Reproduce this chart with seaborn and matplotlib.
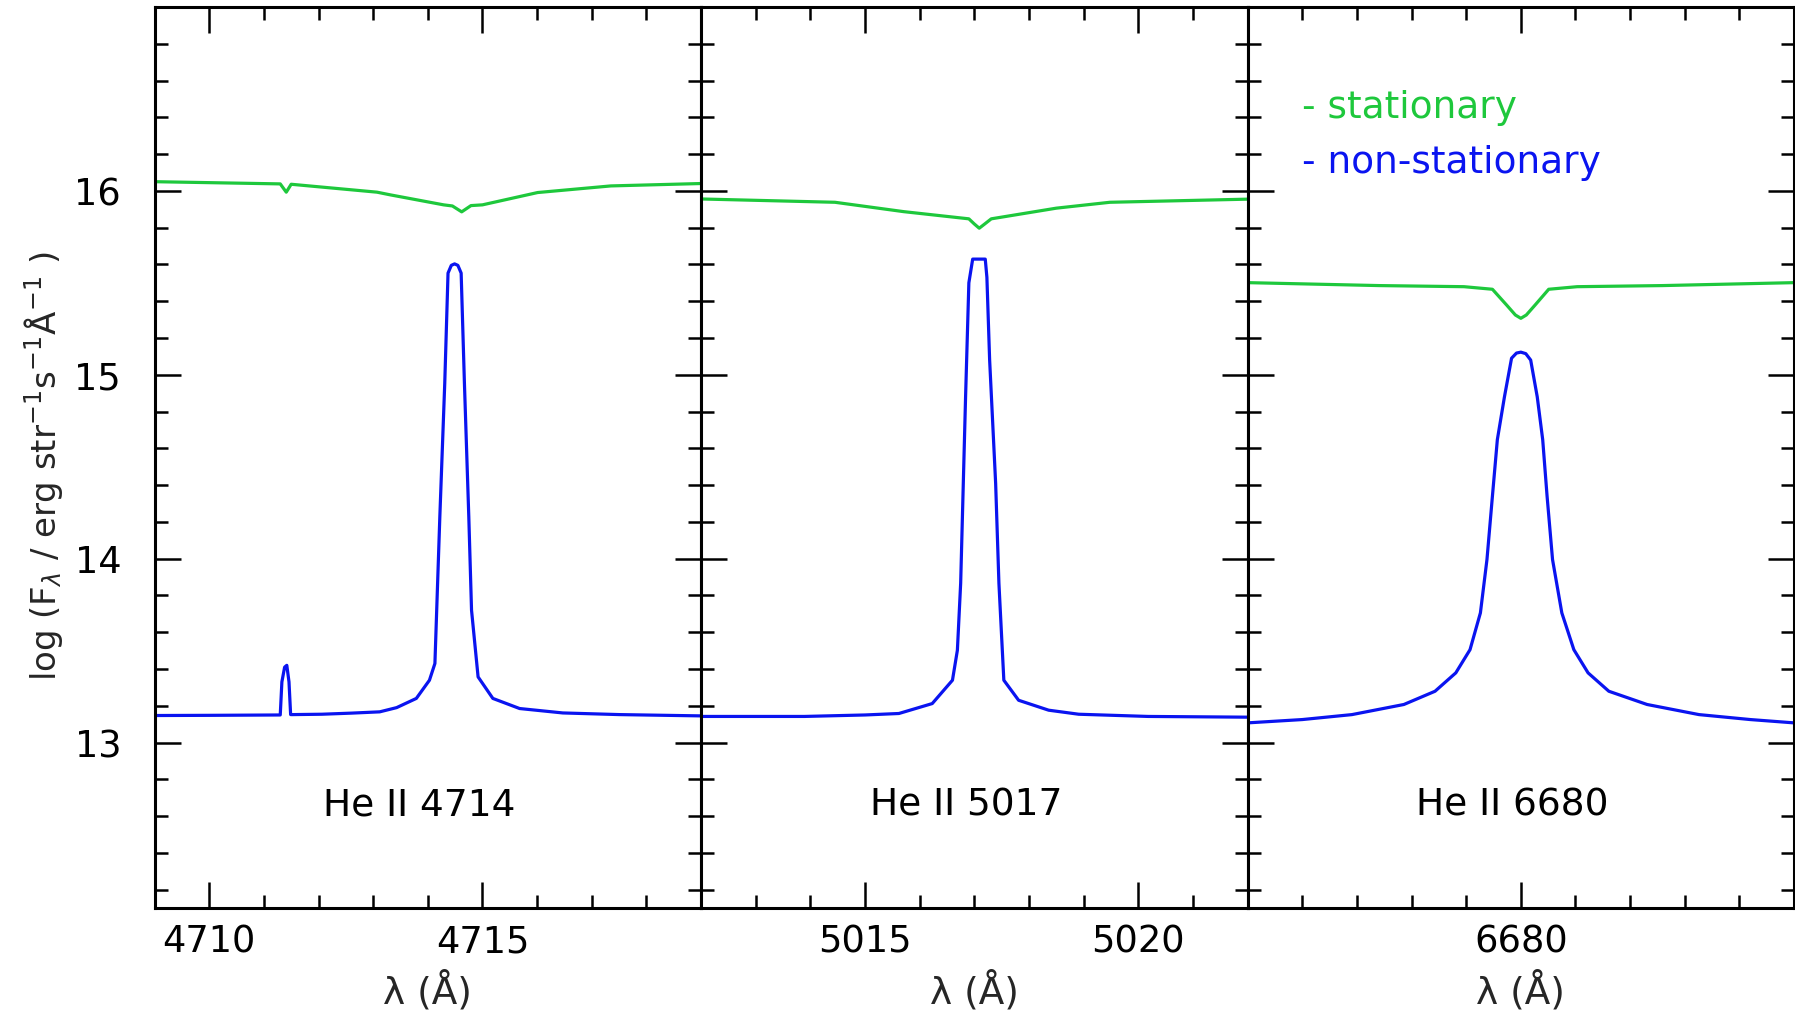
import numpy as np
import pandas as pd
import matplotlib
matplotlib.use("Agg")
import matplotlib.pyplot as plt
from matplotlib.ticker import MultipleLocator, FixedLocator
import seaborn as sns

# ---------------- data ----------------
lines = ["He II 4714", "He II 5017", "He II 6680"]
xlims = [(4709.0, 4719.0), (5012.0, 5022.0), (6675.0, 6685.0)]
major_ticks = [[4710, 4715], [5015, 5020], [6680]]

# panel 1 : He II 4714
w1_stat = [4709.0, 4711.30, 4711.41, 4711.50, 4713.07, 4713.32, 4714.29, 4714.45,
           4714.62, 4714.79, 4715.0, 4716.01, 4717.35, 4719.0]
f1_stat = [16.05, 16.038, 15.993, 16.036, 15.993, 15.978, 15.924, 15.918,
           15.886, 15.920, 15.924, 15.991, 16.027, 16.04]
w1_non = [4709.0, 4710.0, 4711.30, 4711.33, 4711.38, 4711.42, 4711.46, 4711.49,
          4711.52, 4712.06, 4712.6, 4713.12, 4713.43, 4713.79, 4714.03, 4714.13,
          4714.22, 4714.31, 4714.37, 4714.43, 4714.49, 4714.55, 4714.61, 4714.67,
          4714.75, 4714.80, 4714.92, 4715.19, 4715.68, 4716.47, 4717.51, 4719.0]
f1_non = [13.147, 13.148, 13.150, 13.33, 13.41, 13.42, 13.33, 13.152,
          13.152, 13.154, 13.160, 13.167, 13.19, 13.24, 13.339, 13.43,
          14.228, 14.954, 15.553, 15.595, 15.603, 15.595, 15.553, 14.954,
          14.228, 13.72, 13.357, 13.24, 13.185, 13.161, 13.152, 13.145]

# panel 2 : He II 5017
w2_stat = [5012.0, 5014.45, 5015.71, 5016.9, 5017.0, 5017.09, 5017.19, 5017.31,
           5018.5, 5019.48, 5022.0]
f2_stat = [15.956, 15.938, 15.887, 15.848, 15.820, 15.797, 15.820, 15.848,
           15.906, 15.938, 15.955]
w2_non = [5012.0, 5013.89, 5015.0, 5015.62, 5016.23, 5016.60, 5016.69, 5016.75,
          5016.84, 5016.90, 5016.97, 5017.20, 5017.23, 5017.28, 5017.39, 5017.45,
          5017.54, 5017.81, 5018.36, 5018.91, 5020.18, 5022.0]
f2_non = [13.142, 13.142, 13.150, 13.158, 13.212, 13.339, 13.502, 13.866,
          14.881, 15.50, 15.629, 15.629, 15.53, 15.081, 14.41, 13.866,
          13.339, 13.23, 13.176, 13.154, 13.142, 13.138]

# panel 3 : He II 6680
w3_stat = [6675.0, 6677.41, 6678.96, 6679.48, 6679.74, 6679.9, 6680.0, 6680.1,
           6680.26, 6680.51, 6681.03, 6682.59, 6685.0]
f3_stat = [15.501, 15.485, 15.479, 15.465, 15.379, 15.325, 15.307, 15.325,
           15.379, 15.465, 15.479, 15.485, 15.501]
w3_non = [6675.0, 6676.0, 6676.91, 6677.86, 6678.43, 6678.81, 6679.07, 6679.26,
          6679.38, 6679.48, 6679.57, 6679.70, 6679.83, 6679.92, 6680.0, 6680.09,
          6680.18, 6680.30, 6680.40, 6680.48, 6680.58, 6680.75, 6680.97, 6681.23,
          6681.61, 6682.31, 6683.26, 6684.2, 6685.0]
f3_non = [13.107, 13.125, 13.152, 13.207, 13.279, 13.379, 13.505, 13.705,
          13.995, 14.34, 14.647, 14.88, 15.09, 15.118, 15.123, 15.115,
          15.08, 14.88, 14.647, 14.34, 13.995, 13.705, 13.505, 13.379,
          13.279, 13.207, 13.152, 13.125, 13.107]

y_major = [13, 14, 15, 16]
series_names = ["- stationary", "- non-stationary"]

# ---------------- style ----------------
sns.set_style("ticks")
plt.rcParams["font.family"] = ["DejaVu Sans"]
plt.rcParams["mathtext.fontset"] = "dejavusans"

GREEN = "#1ec83c"
BLUE = "#0a14f0"
FS = 26.5

fig = plt.figure(figsize=(17.95, 10.13), dpi=100)
axes = fig.subplots(1, 3, sharey=True)
fig.subplots_adjust(left=0.0861, right=0.9995, top=0.9931, bottom=0.1036, wspace=0)

stat_data = [(w1_stat, f1_stat), (w2_stat, f2_stat), (w3_stat, f3_stat)]
non_data = [(w1_non, f1_non), (w2_non, f2_non), (w3_non, f3_non)]

for i, ax in enumerate(axes):
    ws, fs = stat_data[i]
    wn, fn = non_data[i]
    df_s = pd.DataFrame({"w": ws, "f": fs})
    df_n = pd.DataFrame({"w": wn, "f": fn})
    sns.lineplot(data=df_s, x="w", y="f", ax=ax, color=GREEN, lw=2.3,
                 estimator=None, sort=False)
    sns.lineplot(data=df_n, x="w", y="f", ax=ax, color=BLUE, lw=2.3,
                 estimator=None, sort=False)
    ax.set_xlim(*xlims[i])
    ax.set_ylim(12.1, 17.0)
    ax.xaxis.set_major_locator(FixedLocator(major_ticks[i]))
    ax.xaxis.set_minor_locator(MultipleLocator(1))
    ax.yaxis.set_major_locator(FixedLocator(y_major))
    ax.yaxis.set_minor_locator(MultipleLocator(0.2))
    ax.tick_params(which="both", direction="in", top=True, right=True,
                   bottom=True, left=True, width=1.8, colors="black",
                   labelsize=FS)
    ax.tick_params(which="major", length=18.5)
    ax.tick_params(which="minor", length=9.5)
    ax.tick_params(axis="x", which="major", pad=11)
    ax.tick_params(axis="y", which="major", pad=24)
    for sp in ax.spines.values():
        sp.set_linewidth(2.2)
        sp.set_color("black")
    ax.set_xlabel("λ (Å)", fontsize=FS + 0.5, labelpad=8)
    ax.set_ylabel("")
    ax.text(0.485, 12.66, lines[i], transform=ax.get_yaxis_transform(),
            ha="center", va="center", fontsize=FS + 0.5, color="black")
    if i > 0:
        ax.tick_params(axis="y", labelleft=False)

axes[2].text(6676.0, 16.45, series_names[0], color=GREEN, fontsize=FS + 0.5,
             ha="left", va="center")
axes[2].text(6676.0, 16.15, series_names[1], color=BLUE, fontsize=FS + 0.5,
             ha="left", va="center")

fig.text(0.024, 0.54, r"log (F$_\lambda$ / erg str$^{-1}$s$^{-1}$Å$^{-1}$ )",
         rotation=90, ha="center", va="center", fontsize=24.5)

fig.savefig("out.png", dpi=100)
